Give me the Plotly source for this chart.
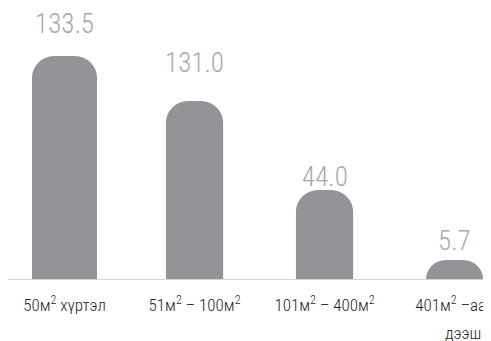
import plotly.graph_objects as go

# categories (floor area groups) and values shown above bars
categories = ["50м<sup>2</sup> хүртэл",
              "51м<sup>2</sup> – 100м<sup>2</sup>",
              "101м<sup>2</sup> – 400м<sup>2</sup>",
              "401м<sup>2</sup> –аас"]
category_second_line = ["", "", "", "дээш"]
value_labels = ["133.5", "131.0", "44.0", "5.7"]
# bar heights as drawn in the picture (not proportional to the labels)
bar_heights = [224, 179, 90, 20]

FONT = "Roboto Condensed, Roboto, sans-serif"
LABEL_SHIFT = [14, 20, -5, 1]   # value-label offsets above each bar (px)
x = list(range(len(categories)))

fig = go.Figure(go.Bar(
    x=x,
    y=bar_heights,
    width=[0.5, 0.44, 0.44, 0.44],
    marker=dict(color="#929497", line=dict(width=0)),
    hoverinfo="skip",
))

for xi, h, t, s in zip(x, bar_heights, value_labels, LABEL_SHIFT):
    fig.add_annotation(
        x=xi, y=h, text=t, showarrow=False,
        yanchor="bottom", yshift=s,
        font=dict(size=27, color="#a7a9ac", family=FONT, weight=300),
    )

for xi, t in zip(x, category_second_line):
    if t:
        fig.add_annotation(
            x=xi, y=0, yref="paper", text=t, showarrow=False,
            yanchor="middle", yshift=-53, xshift=8,
            font=dict(size=17, color="#231f20", family=FONT, weight=300),
        )

# baseline
fig.add_shape(type="line", xref="paper", yref="y",
              x0=0, x1=1, y0=0, y1=0,
              line=dict(color="#d1d3d4", width=2))

fig.update_layout(
    width=491, height=341,
    margin=dict(l=0, r=0, t=0, b=69),
    paper_bgcolor="white", plot_bgcolor="white",
    barcornerradius=22,
    showlegend=False,
    xaxis=dict(
        range=[-0.4346, 3.342],
        tickvals=x, ticktext=categories,
        showgrid=False, zeroline=False, showline=False,
        ticks="", ticklen=0, automargin=False,
        ticklabeloverflow="allow", ticklabelstandoff=13,
        tickfont=dict(size=17, color="#231f20", family=FONT, weight=300),
    ),
    yaxis=dict(range=[0, 272], visible=False),
)

fig.write_html("out.html")
